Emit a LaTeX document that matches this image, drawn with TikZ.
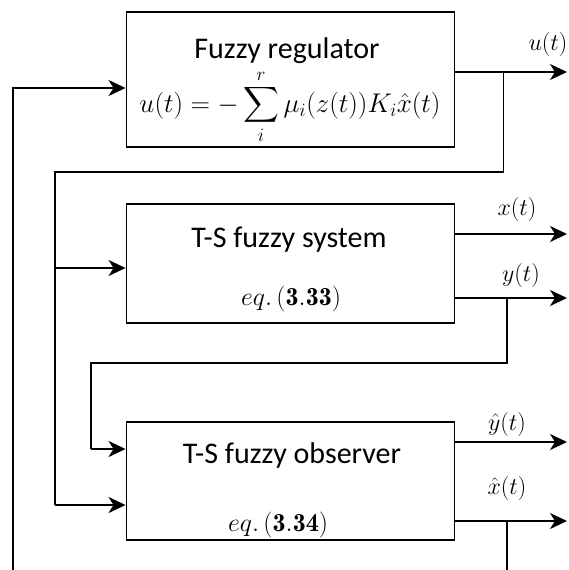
\RequirePackage{fix-cm}
\documentclass[tikz,border=0pt]{standalone}
\usepackage{amsmath}
\usepackage{fontspec}
\newfontfamily\boxfont{Carlito}
\usetikzlibrary{arrows.meta}
\begin{document}
\begin{tikzpicture}[x=1pt,y=-1pt,
  blk/.style={draw,line width=1.9pt,rectangle,inner sep=0pt},
  conn/.style={line width=1.9pt},
  arr/.style={line width=1.9pt,-{Stealth[length=17pt,width=16pt,inset=5pt]}},
  btext/.style={font=\boxfont\fontsize{30}{34}\selectfont,inner sep=0pt,anchor=base},
  mtext/.style={font=\fontsize{27}{32}\selectfont,inner sep=0pt},
  etext/.style={font=\fontsize{26}{30}\selectfont,inner sep=0pt,anchor=base},
  lbl/.style={font=\fontsize{24}{28}\selectfont,inner sep=0pt}]
\useasboundingbox (0,0) rectangle (568,570);
% blocks
\node[blk,minimum width=328pt,minimum height=135pt] (reg) at (290.5,79.5) {};
\node[blk,minimum width=328pt,minimum height=119pt] (sys) at (290.5,263.5) {};
\node[blk,minimum width=328pt,minimum height=118pt] (obs) at (290.5,481) {};
% texts
\node[btext] (tr) at (287,58) {Fuzzy regulator};
\node[mtext] (tm) at (290,107) {$u(t)=-\displaystyle\sum_{i}^{r}\mu_i(z(t))K_i\hat{x}(t)$};
\node[btext] (ts) at (289,247) {T-S fuzzy system};
\node[etext] (es) at (291,305) {$eq.\,(\mathbf{3.33})$};
\node[btext] (to) at (292,463) {T-S fuzzy observer};
\node[etext] (eo) at (278,531) {$eq.\,(\mathbf{3.34})$};
% coordinates
\coordinate (uo) at (454,72);
\coordinate (ue) at (567,72);
\coordinate (ub) at (503.5,72);
\coordinate (ubd) at (503.5,172);
\coordinate (ul) at (55,172);
\coordinate (ulm) at (55,268);
\coordinate (ulb) at (55,505);
\coordinate (ol) at (13,570);
\coordinate (olt) at (13,88);
\coordinate (xo) at (454,234);
\coordinate (xe) at (567,234);
\coordinate (yo) at (454,298);
\coordinate (ye) at (567,298);
\coordinate (yb) at (507,298);
\coordinate (ybd) at (507,363);
\coordinate (yl) at (91,363);
\coordinate (ylb) at (91,449);
\coordinate (yho) at (454,442);
\coordinate (yhe) at (567,442);
\coordinate (xho) at (454,521);
\coordinate (xhe) at (567,521);
\coordinate (xhb) at (507,521);
\coordinate (xhd) at (507,570);
% connectors
\draw[arr] (uo) -- (ue);
\draw[conn] (ub) -- (ubd) -- (ul) -- (ulb);
\draw[arr] (ulm) -- (sys.west |- ulm);
\draw[arr] (ulb) -- (obs.west |- ulb);
\draw[arr] (ol) -- (olt) -- (reg.west |- olt);
\draw[arr] (xo) -- (xe);
\draw[arr] (yo) -- (ye);
\draw[conn] (yb) -- (ybd) -- (yl) -- (ylb);
\draw[arr] (ylb) -- (obs.west |- ylb);
\draw[arr] (yho) -- (yhe);
\draw[arr] (xho) -- (xhe);
\draw[conn] (xhb) -- (xhd);
% labels
\node[lbl] (lu) at (548,45) {$u(t)$};
\node[lbl] (lx) at (517,209) {$x(t)$};
\node[lbl] (ly) at (521,275) {$y(t)$};
\node[lbl] (lyh) at (507,424) {$\hat{y}(t)$};
\node[lbl] (lxh) at (507,488) {$\hat{x}(t)$};
\end{tikzpicture}
\end{document}
